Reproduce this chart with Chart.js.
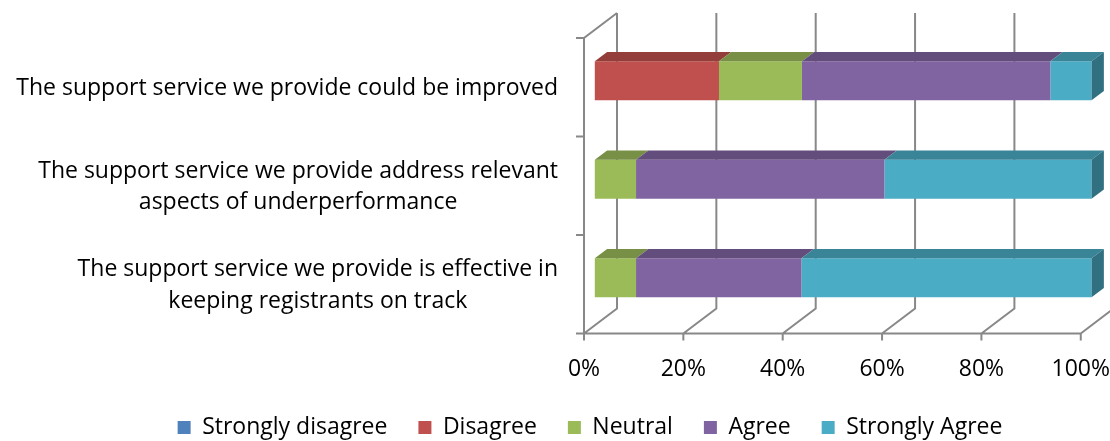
<!DOCTYPE html>
<html lang="en">
<head>
    <meta charset="UTF-8">
    <title>Support service survey</title>
    <script src="https://cdn.jsdelivr.net/npm/chart.js"></script>
    <style>
        html, body { margin: 0; padding: 0; background: #fff; }
    </style>
</head>
<body>

    <canvas id="grafico" width="1110" height="441"></canvas>

<script>
    // survey questions (one entry per bar, split in lines)
    var questions = [
        ["The support service we provide could be improved"],
        ["The support service we provide address relevant", "aspects of underperformance"],
        ["The support service we provide is effective in", "keeping registrants on track"]
    ];

    var answers = ["Strongly disagree", "Disagree", "Neutral", "Agree", "Strongly Agree"];
    var colors = ["#4F81BD", "#C0504D", "#9BBB59", "#8064A2", "#4BACC6"];

    // % of answers for each question
    var stronglyDisagree = [0, 0, 0];
    var disagree = [25, 0, 0];
    var neutral = [16.7, 8.3, 8.3];
    var agree = [50, 50, 33.3];
    var stronglyAgree = [8.3, 41.7, 58.4];

    var ticksX = [0, 20, 40, 60, 80, 100];

    var series = [stronglyDisagree, disagree, neutral, agree, stronglyAgree];

    const FONT = '"Open Sans", Lato, sans-serif';
    const FONT_SIZE = 23;
    const DEPTH = { dx: 33, dy: -25 };                      // depth of the 3d box (walls)
    const BAR = { x: 10.8, y: -6.5, dx: 12.3, dy: -9.2 };   // bar front offset and bar thickness

    function darker(hex, f) {
        const n = parseInt(hex.slice(1), 16);
        const r = Math.round(((n >> 16) & 255) * f);
        const g = Math.round(((n >> 8) & 255) * f);
        const b = Math.round((n & 255) * f);
        return `rgb(${r}, ${g}, ${b})`;
    }

    const box3d = {
        id: 'box3d',
        beforeDatasetsDraw(chart) {
            const { ctx, chartArea: a, scales: { x } } = chart;

            ctx.save();
            ctx.strokeStyle = '#888';
            ctx.lineWidth = 2;
            ctx.beginPath();

            // floor + back wall grid
            ticksX.forEach(v => {
                const px = x.getPixelForValue(v);
                ctx.moveTo(px, a.bottom);
                ctx.lineTo(px + DEPTH.dx, a.bottom + DEPTH.dy);
                ctx.lineTo(px + DEPTH.dx, a.top + DEPTH.dy);
                ctx.moveTo(px, a.bottom);
                ctx.lineTo(px, a.bottom + 7);
            });

            // side wall
            ctx.moveTo(a.left, a.bottom);
            ctx.lineTo(a.left, a.top);
            ctx.lineTo(a.left + DEPTH.dx, a.top + DEPTH.dy);

            ctx.moveTo(a.left - 8, a.bottom);
            ctx.lineTo(a.right, a.bottom);

            for (let i = 0; i <= questions.length; i++) {
                const py = a.top + i * (a.bottom - a.top) / questions.length;
                ctx.moveTo(a.left - 8, py);
                ctx.lineTo(a.left, py);
            }
            ctx.stroke();
            ctx.restore();

            // bars sit a bit behind the front plane
            ctx.save();
            ctx.translate(BAR.x, BAR.y);
        },
        afterDatasetsDraw(chart) {
            const { ctx } = chart;

            for (let i = 0; i < questions.length; i++) {
                let last = null;
                chart.data.datasets.forEach((ds, d) => {
                    if (!ds.data[i]) return;
                    const el = chart.getDatasetMeta(d).data[i];
                    const p = el.getProps(['x', 'y', 'base', 'height'], true);
                    const top = p.y - p.height / 2;

                    ctx.fillStyle = darker(colors[d], 0.77);
                    ctx.beginPath();
                    ctx.moveTo(p.base, top);
                    ctx.lineTo(p.x, top);
                    ctx.lineTo(p.x + BAR.dx, top + BAR.dy);
                    ctx.lineTo(p.base + BAR.dx, top + BAR.dy);
                    ctx.closePath();
                    ctx.fill();

                    last = { x: p.x, top: top, h: p.height, d: d };
                });

                if (last) {
                    ctx.fillStyle = darker(colors[last.d], 0.65);
                    ctx.beginPath();
                    ctx.moveTo(last.x, last.top);
                    ctx.lineTo(last.x + BAR.dx, last.top + BAR.dy);
                    ctx.lineTo(last.x + BAR.dx, last.top + last.h + BAR.dy);
                    ctx.lineTo(last.x, last.top + last.h);
                    ctx.closePath();
                    ctx.fill();
                }
            }
            ctx.restore();
        },
        afterDraw(chart) {
            const { ctx, chartArea: a, scales: { y } } = chart;
            const right = a.left - 26;

            ctx.save();
            ctx.font = FONT_SIZE + 'px ' + FONT;
            ctx.fillStyle = '#000';
            ctx.textAlign = 'center';
            ctx.textBaseline = 'middle';

            questions.forEach((lines, i) => {
                const w = Math.max(...lines.map(l => ctx.measureText(l).width));
                const cx = right - w / 2;
                const cy = y.getPixelForValue(i) + 1;
                lines.forEach((l, k) => {
                    ctx.fillText(l, cx, cy + (k - (lines.length - 1) / 2) * 31.5);
                });
            });
            ctx.restore();
        }
    };

    new Chart(document.getElementById('grafico'), {
        type: 'bar',
        data: {
            labels: questions,
            datasets: answers.map((nome, d) => ({
                label: nome,
                data: series[d],
                backgroundColor: colors[d],
                borderWidth: 0,
                barPercentage: 0.395,
                categoryPercentage: 1,
                clip: false
            }))
        },
        options: {
            indexAxis: 'y',
            responsive: false,
            animation: false,
            events: [],
            layout: {
                padding: { top: 38, left: 99, right: 29, bottom: -8 }
            },
            scales: {
                x: {
                    stacked: true,
                    min: 0,
                    max: 100,
                    grid: { display: false, drawTicks: true, tickLength: 22 },
                    border: { display: false },
                    ticks: {
                        stepSize: 20,
                        padding: 0,
                        color: '#000',
                        font: { family: FONT, size: FONT_SIZE },
                        callback: v => v + '%'
                    },
                    afterFit: s => { s.height = 51.5; }
                },
                y: {
                    stacked: true,
                    grid: { display: false },
                    border: { display: false },
                    ticks: { display: false },
                    afterFit: s => { s.width = 485; }
                }
            },
            plugins: {
                legend: {
                    position: 'bottom',
                    labels: {
                        boxWidth: 13,
                        boxHeight: 13,
                        padding: 31,
                        color: '#000',
                        font: { family: FONT, size: FONT_SIZE }
                    }
                },
                tooltip: { enabled: false }
            }
        },
        plugins: [box3d]
    });
</script>
</body>
</html>
